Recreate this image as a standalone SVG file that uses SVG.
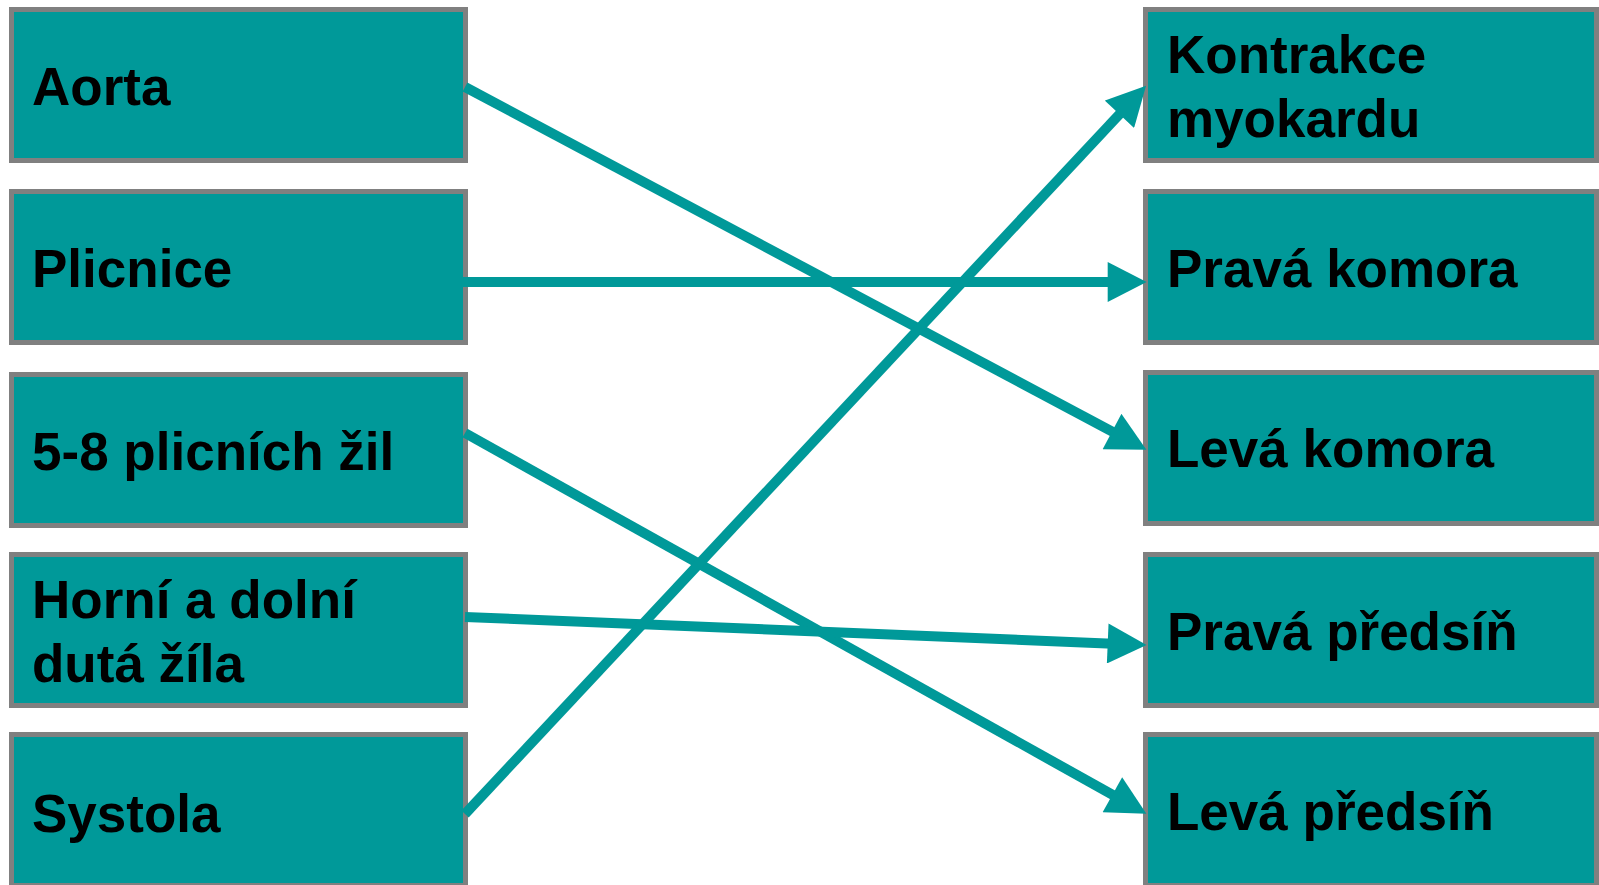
<svg xmlns="http://www.w3.org/2000/svg" width="1599" height="885" viewBox="0 0 1599 885">
  <style>
    .box { fill: #009999; stroke: #808080; stroke-width: 5; }
    .lbl { font-family: "Liberation Sans", Arial, sans-serif; font-weight: bold; font-size: 53px; fill: #000000; }
    .conn { stroke: #009999; stroke-width: 10; fill: none; marker-end: url(#arrow); }
  </style>
  <defs>
    <marker id="arrow" markerUnits="userSpaceOnUse" markerWidth="40" markerHeight="40" viewBox="0 0 36 37" refX="16" refY="18.5" orient="auto">
      <path d="M0,0 L36,18.5 L0,37 Z" fill="#009999"/>
    </marker>
  </defs>
  <rect width="1599" height="885" fill="#ffffff"/>

  <g id="node-aorta"><rect class="box" x="11.5" y="9.5" width="454" height="151"/><text class="lbl" x="32" y="105">Aorta</text></g>
  <g id="node-plicnice"><rect class="box" x="11.5" y="191.5" width="454" height="151"/><text class="lbl" x="32" y="287">Plicnice</text></g>
  <g id="node-zily"><rect class="box" x="11.5" y="374.5" width="454" height="151"/><text class="lbl" x="32" y="470">5-8 plicních žil</text></g>
  <g id="node-duta"><rect class="box" x="11.5" y="554.5" width="454" height="151"/><text class="lbl" x="32" y="618">Horní a dolní</text><text class="lbl" x="32" y="682">dutá žíla</text></g>
  <g id="node-systola"><rect class="box" x="11.5" y="734.5" width="454" height="151"/><text class="lbl" x="32" y="832">Systola</text></g>

  <g id="node-kontrakce"><rect class="box" x="1145.5" y="9.5" width="451" height="151"/><text class="lbl" x="1167" y="73">Kontrakce</text><text class="lbl" x="1167" y="137">myokardu</text></g>
  <g id="node-prava-komora"><rect class="box" x="1145.5" y="191.5" width="451" height="151"/><text class="lbl" x="1167" y="287">Pravá komora</text></g>
  <g id="node-leva-komora"><rect class="box" x="1145.5" y="372.5" width="451" height="151"/><text class="lbl" x="1167" y="467">Levá komora</text></g>
  <g id="node-prava-predsin"><rect class="box" x="1145.5" y="554.5" width="451" height="151"/><text class="lbl" x="1167" y="650">Pravá předsíň</text></g>
  <g id="node-leva-predsin"><rect class="box" x="1145.5" y="734.5" width="451" height="151"/><text class="lbl" x="1167" y="830">Levá předsíň</text></g>

  <g id="connectors">
    <line class="conn" x1="465" y1="87" x2="1127.3" y2="439.6"/>
    <line class="conn" x1="463" y1="282" x2="1125" y2="282"/>
    <line class="conn" x1="465" y1="433" x2="1127.5" y2="803.2"/>
    <line class="conn" x1="465" y1="617" x2="1125" y2="644.2"/>
    <line class="conn" x1="465" y1="814" x2="1131.3" y2="101.6"/>
  </g>
</svg>
